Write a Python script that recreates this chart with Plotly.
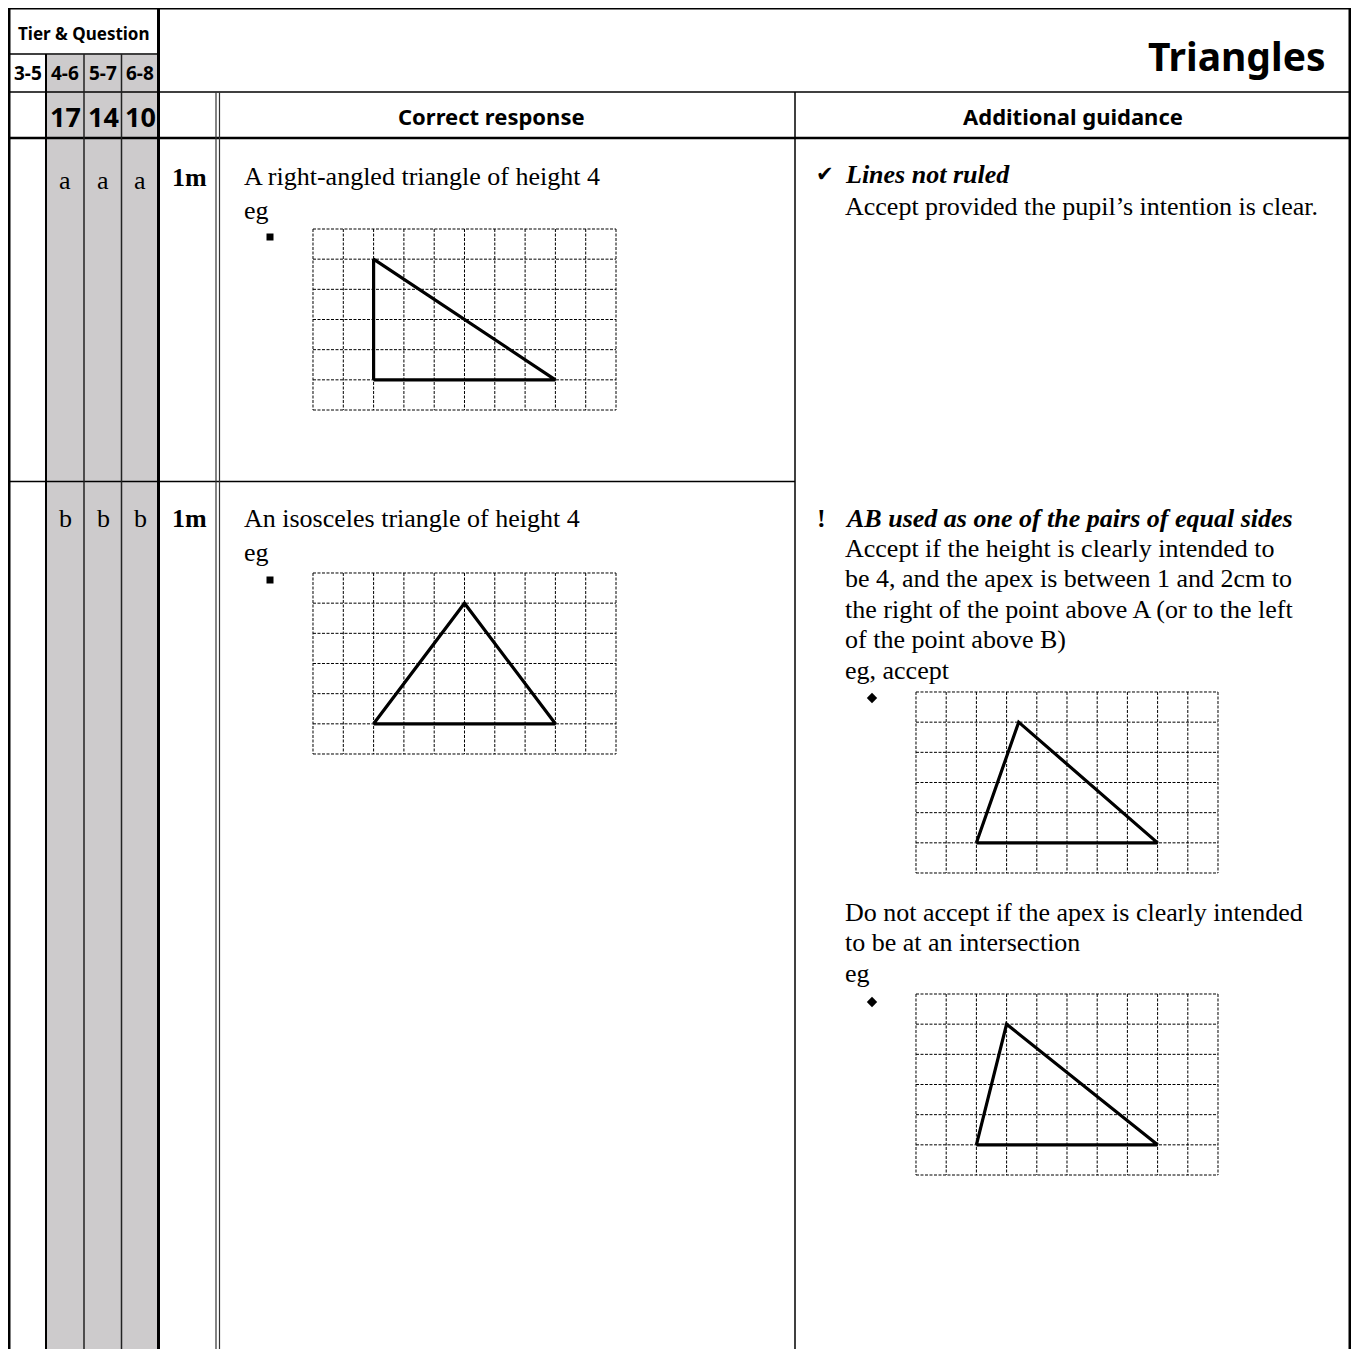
import plotly.graph_objects as go

W, H = 1359, 1349
OFF = 8  # page body margin shifts the figure

# header / tier labels
tier_labels = ["3-5", "4-6", "5-7", "6-8"]
question_nums = ["", "17", "14", "10"]
part_labels = ["a", "b"]
marks = ["1m", "1m"]
page_title = "Triangles"
col_heads = ["Correct response", "Additional guidance"]

# triangles on 10 x 6 squared grids, vertices as (column, row from top)
grid_cols, grid_rows = 10, 6
tri_right = [(2, 5), (2, 1), (8, 5)]
tri_isosceles = [(2, 5), (5, 1), (8, 5)]
tri_accept = [(2, 5), (3.4, 1), (8, 5)]
tri_reject = [(2, 5), (3, 1), (8, 5)]

# text
resp_a = ["A right-angled triangle of height 4", "eg"]
resp_b = ["An isosceles triangle of height 4", "eg"]
guide_a_head = "Lines not ruled"
guide_a = ["Accept provided the pupil\u2019s intention is clear."]
guide_b_head = "AB used as one of the pairs of equal sides"
guide_b = ["Accept if the height is clearly intended to",
           "be 4, and the apex is between 1 and 2cm to",
           "the right of the point above A (or to the left",
           "of the point above B)",
           "eg, accept"]
guide_b2 = ["Do not accept if the apex is clearly intended",
            "to be at an intersection",
            "eg"]

SERIF = "Liberation Serif"
SANS = "Noto Sans"
FS = 26

fig = go.Figure()
shapes = []
ann = []


def hline(y, x0, x1, w=1.5, c="black"):
    shapes.append(dict(type="line", xref="x", yref="y", x0=x0, x1=x1, y0=y, y1=y,
                       line=dict(color=c, width=w)))


def vline(x, y0, y1, w=1.5, c="black"):
    shapes.append(dict(type="line", xref="x", yref="y", x0=x, x1=x, y0=y0, y1=y1,
                       line=dict(color=c, width=w)))


def text(x, y, s, size=FS, family=SERIF, anchor="left"):
    ann.append(dict(x=x, y=y, xref="x", yref="y", text=s, showarrow=False,
                    xanchor=anchor, yanchor="middle",
                    font=dict(family=family, size=size, color="black")))


# shaded tier columns
shapes.append(dict(type="rect", xref="x", yref="y", x0=46, x1=158, y0=55, y1=H + 20,
                   fillcolor="#cdcbcc", line=dict(width=0), layer="below"))

# table lines
hline(8, 8, 1351, 3)
vline(9, 7, H + 20, 3)
vline(1350, 7, H + 20, 3)
vline(158.5, 7, H + 20, 3)
hline(54, 9, 158)
hline(92, 9, 1350)
hline(138, 9, 1350, 2.5)
hline(481.5, 9, 795)
vline(46, 54, H + 20, 2)
vline(84, 54, H + 20, 1.5, "#222")
vline(121.5, 54, H + 20, 1.5, "#222")
vline(216, 92, H + 20, 1.2, "#333")
vline(219.5, 92, H + 20, 1.2, "#333")
vline(795, 92, H + 20, 1.5)

# header text
text(84, 33, "<b>Tier & Question</b>", 17, SANS, "center")
for cx, lab, num in zip([27.5, 65, 103, 140], tier_labels, question_nums):
    text(cx, 73, "<b>%s</b>" % lab, 19, SANS, "center")
    if num:
        text(cx, 116, "<b>%s</b>" % num, 27, SANS, "center")
text(1328, 55, "<b>%s</b>" % page_title, 39, SANS, "right")
text(491, 116, "<b>%s</b>" % col_heads[0], 22, SANS, "center")
text(1073, 116, "<b>%s</b>" % col_heads[1], 22, SANS, "center")

# part labels and marks
for y, lab, mk in zip([180, 518], part_labels, marks):
    for cx in [65, 103, 140]:
        text(cx, y, lab, FS, SERIF, "center")
    text(189, y - 3 if y == 180 else y, "<b>%s</b>" % mk, FS, SERIF, "center")

# correct response text
for i, s in enumerate(resp_a):
    text(242, 176 + 34 * i, s)
for i, s in enumerate(resp_b):
    text(242, 518 + 34 * i, s)

# guidance text
text(814, 174, "\u2714", 21, "DejaVu Sans")
text(843, 174, "<b><i>%s</i></b>" % guide_a_head)
for i, s in enumerate(guide_a):
    text(843, 206 + 30.5 * i, s)
text(815, 518, "<b>!</b>", FS)
text(843, 518, "<b><i>%s</i></b>" % guide_b_head)
for i, s in enumerate(guide_b):
    text(843, 548.5 + 30.4 * i, s)
for i, s in enumerate(guide_b2):
    text(843, 912 + 30.5 * i, s)

# bullets
fig.add_trace(go.Scatter(x=[270, 270], y=[237, 580], mode="markers",
                         marker=dict(symbol="square", size=7, color="black"),
                         xaxis="x", yaxis="y", hoverinfo="skip", showlegend=False))
fig.add_trace(go.Scatter(x=[872, 872], y=[698, 1002], mode="markers",
                         marker=dict(symbol="diamond", size=8, color="black"),
                         xaxis="x", yaxis="y", hoverinfo="skip", showlegend=False))

layout_axes = {}
PAD = 0.15


def add_grid(n, box, tri):
    x0, y0, x1, y1 = [v - OFF for v in box]
    ux = (x1 - x0) / grid_cols
    uy = (y1 - y0) / grid_rows
    xa, ya = "xaxis%d" % n, "yaxis%d" % n
    layout_axes[xa] = dict(domain=[(x0 - PAD * ux) / W, (x1 + PAD * ux) / W],
                           range=[-PAD, grid_cols + PAD], anchor="y%d" % n,
                           visible=False, fixedrange=True)
    layout_axes[ya] = dict(domain=[1 - (y1 + PAD * uy) / H, 1 - (y0 - PAD * uy) / H],
                           range=[grid_rows + PAD, -PAD], anchor="x%d" % n,
                           visible=False, fixedrange=True)
    gx, gy = [], []
    for c in range(grid_cols + 1):
        gx += [c, c, None]
        gy += [0, grid_rows, None]
    for r in range(grid_rows + 1):
        gx += [0, grid_cols, None]
        gy += [r, r, None]
    fig.add_trace(go.Scatter(x=gx, y=gy, mode="lines",
                             line=dict(color="black", width=1, dash="3px,1.5px"),
                             xaxis="x%d" % n, yaxis="y%d" % n,
                             hoverinfo="skip", showlegend=False))
    fig.add_trace(go.Scatter(x=[p[0] for p in tri] + [tri[0][0]],
                             y=[p[1] for p in tri] + [tri[0][1]],
                             mode="lines", line=dict(color="black", width=3.2),
                             xaxis="x%d" % n, yaxis="y%d" % n,
                             hoverinfo="skip", showlegend=False))


add_grid(2, (313, 229, 616, 410), tri_right)
add_grid(3, (313, 573, 616, 754), tri_isosceles)
add_grid(4, (916, 692, 1218, 873), tri_accept)
add_grid(5, (916, 994, 1218, 1175), tri_reject)

fig.update_layout(
    width=W, height=H,
    margin=dict(l=0, r=0, t=0, b=0),
    paper_bgcolor="white", plot_bgcolor="rgba(0,0,0,0)",
    xaxis=dict(domain=[0, 1], range=[OFF, W + OFF], visible=False, fixedrange=True),
    yaxis=dict(domain=[0, 1], range=[H + OFF, OFF], visible=False, fixedrange=True),
    shapes=shapes, annotations=ann, showlegend=False,
    **layout_axes,
)

fig.write_html("out.html")
